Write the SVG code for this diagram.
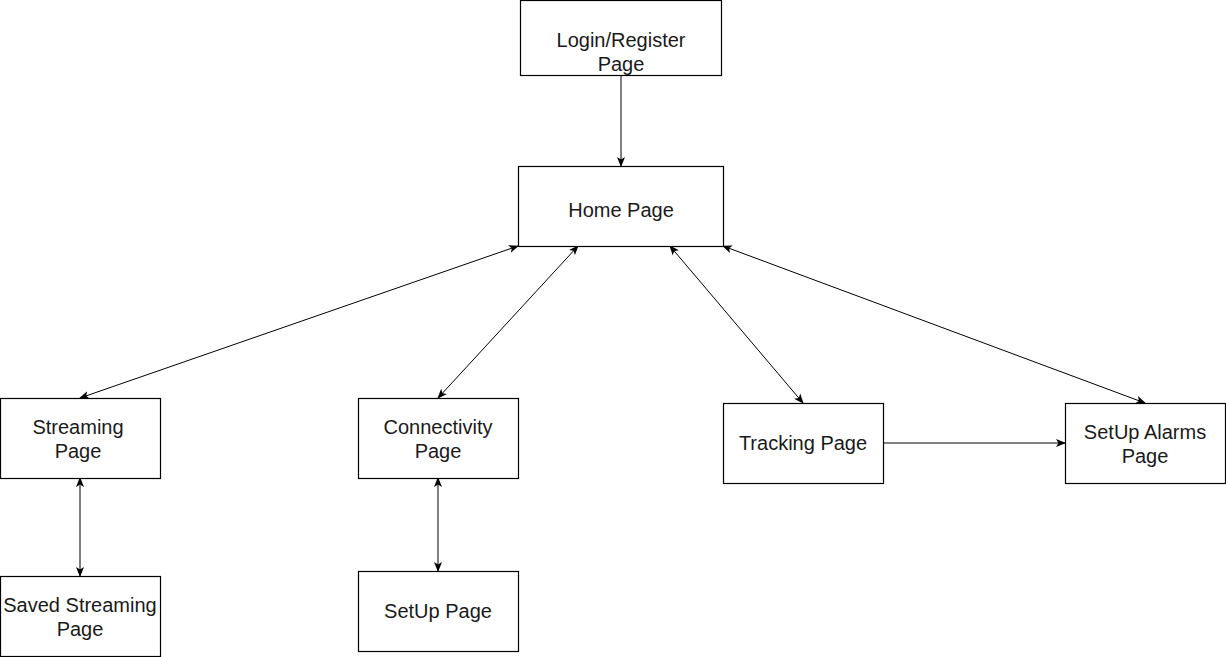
<svg xmlns="http://www.w3.org/2000/svg" width="1226" height="657" viewBox="0 0 1226 657">
<style>
.box{fill:#fff;stroke:#000;stroke-width:1.2}
.lbl{font-family:"Liberation Sans",Arial,sans-serif;font-size:20px;fill:#1a1a1a;text-anchor:middle}
.edge{stroke:#000;stroke-width:1;fill:none}
</style>
<defs>
<marker id="ah" viewBox="0 0 10 10" refX="9" refY="5" markerWidth="10" markerHeight="10" markerUnits="userSpaceOnUse" orient="auto-start-reverse">
<path d="M0,1 L10,5 L0,9 L2.5,5 Z" fill="#000"/>
</marker>
</defs>
<rect width="1226" height="657" fill="#fff"/>
<g id="connectors">
<line class="edge" x1="621" y1="75" x2="621" y2="166" marker-end="url(#ah)"/>
<line class="edge" x1="518" y1="246" x2="80" y2="398" marker-start="url(#ah)" marker-end="url(#ah)"/>
<line class="edge" x1="578" y1="246" x2="438" y2="398" marker-start="url(#ah)" marker-end="url(#ah)"/>
<line class="edge" x1="670" y1="246" x2="803" y2="403" marker-start="url(#ah)" marker-end="url(#ah)"/>
<line class="edge" x1="723" y1="246" x2="1145" y2="403" marker-start="url(#ah)" marker-end="url(#ah)"/>
<line class="edge" x1="80" y1="478" x2="80" y2="576" marker-start="url(#ah)" marker-end="url(#ah)"/>
<line class="edge" x1="438" y1="478" x2="438" y2="571" marker-start="url(#ah)" marker-end="url(#ah)"/>
<line class="edge" x1="883" y1="443" x2="1065" y2="443" marker-end="url(#ah)"/>
</g>
<g id="login"><rect class="box" x="520.5" y="0.5" width="201" height="75"/><text class="lbl" x="621" y="47">Login/Register</text><text class="lbl" x="621" y="71">Page</text></g>
<g id="home"><rect class="box" x="518.5" y="166.5" width="205" height="80"/><text class="lbl" x="621" y="217">Home Page</text></g>
<g id="streaming"><rect class="box" x="0.5" y="398.5" width="160" height="80"/><text class="lbl" x="78" y="434">Streaming</text><text class="lbl" x="78" y="458">Page</text></g>
<g id="connectivity"><rect class="box" x="358.5" y="398.5" width="160" height="80"/><text class="lbl" x="438" y="434">Connectivity</text><text class="lbl" x="438" y="458">Page</text></g>
<g id="tracking"><rect class="box" x="723.5" y="403.5" width="160" height="80"/><text class="lbl" x="803" y="450">Tracking Page</text></g>
<g id="alarms"><rect class="box" x="1065.5" y="403.5" width="160" height="80"/><text class="lbl" x="1145" y="439">SetUp Alarms</text><text class="lbl" x="1145" y="463">Page</text></g>
<g id="saved"><rect class="box" x="0.5" y="576.5" width="160" height="80"/><text class="lbl" x="80" y="612">Saved Streaming</text><text class="lbl" x="80" y="636">Page</text></g>
<g id="setup"><rect class="box" x="358.5" y="571.5" width="160" height="80"/><text class="lbl" x="438" y="618">SetUp Page</text></g>
</svg>
